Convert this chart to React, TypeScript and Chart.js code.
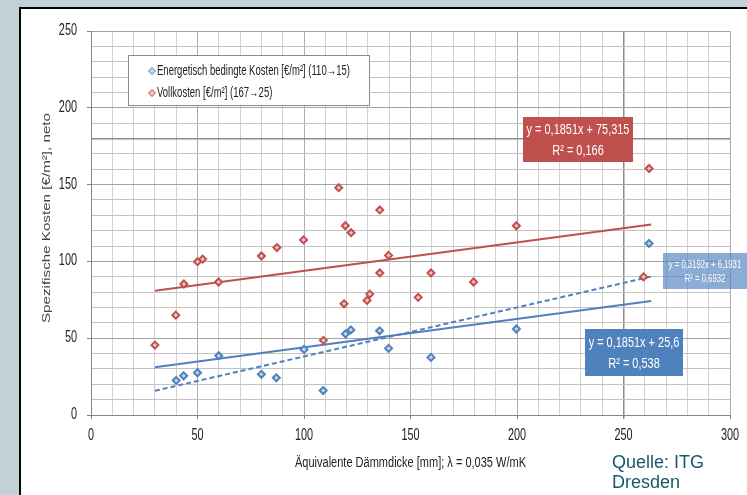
import React, { useEffect, useRef } from "react";
import { Chart, registerables } from "chart.js";

Chart.register(...registerables);

// ---- data ----
const energyX = [40, 43.5, 50, 60, 80, 87, 100, 109, 119.5, 122, 135.5, 139.7, 159.6, 199.7, 262];
const energyY = [22.5, 25.5, 27.5, 38.6, 26.5, 24.2, 42.7, 15.9, 52.8, 55.4, 54.8, 43.4, 37.5, 56, 111.7];

const fullX = [30, 39.8, 43.6, 50, 52.4, 59.9, 80, 87.3, 99.8, 109.1, 116.3, 118.8, 119.4, 122.1, 129.6, 130.9, 135.6, 135.6, 139.7, 153.6, 159.6, 179.6, 199.7, 259.4, 262];
const fullY = [45.5, 65, 85.3, 99.8, 101.5, 86.6, 103.5, 109, 114, 48.6, 148, 72.4, 123.2, 118.7, 74.6, 78.7, 133.5, 92.5, 103.9, 76.6, 92.5, 86.6, 123.2, 89.9, 160.5];

const seriesLabels = [
  "Energetisch bedingte Kosten [€/m²] (110→15)",
  "Vollkosten [€/m²] (167→25)",
];

// trend lines: [full, energy linear, energy dashed]
const trendSlopes = [0.1851, 0.1851, 0.3192];
const trendIntercepts = [75.315, 25.6, 6.1931];
const trendRange = [30, 263];
const trendTexts = [
  ["y = 0,1851x + 75,315", "R² = 0,166"],
  ["y = 0,1851x + 25,6", "R² = 0,538"],
  ["y = 0,3192x + 6,1931", "R² = 0,6932"],
];

const xTickMax = 300;
const yTickMax = 250;
const tickStep = 10;
const labelStep = 50;
const xTitle = "Äquivalente Dämmdicke [mm]; λ = 0,035 W/mK";
const yTitle = "Spezifische Kosten [€/m²], neto";
const sourceLines = ["Quelle: ITG", "Dresden"];

const SANS = '"Liberation Sans", Arial, sans-serif';
const RED = "#c0504d";
const BLUE = "#4f81bd";

const trendPoints = (i: number) =>
  trendRange.map((x) => ({ x, y: trendSlopes[i] * x + trendIntercepts[i] }));

function narrowText(
  ctx: CanvasRenderingContext2D,
  text: string,
  x: number,
  y: number,
  size: number,
  sx: number,
  align: CanvasTextAlign,
  baseline: CanvasTextBaseline,
  color: string,
  rotate = false,
  targetW = 0
) {
  ctx.save();
  ctx.translate(x, y);
  if (rotate) ctx.rotate(-Math.PI / 2);
  ctx.font = `${size}px ${SANS}`;
  let s = sx;
  if (targetW > 0) s = targetW / ctx.measureText(text).width;
  ctx.scale(s, 1);
  ctx.textAlign = align;
  ctx.textBaseline = baseline;
  ctx.fillStyle = color;
  ctx.fillText(text, 0, 0);
  ctx.restore();
}

const decorPlugin = {
  id: "decor",
  beforeDraw(chart: any) {
    const { ctx, width, height } = chart;
    ctx.save();
    ctx.fillStyle = "#c0d2d5";
    ctx.fillRect(0, 0, width, height);
    ctx.fillStyle = "#ffffff";
    ctx.fillRect(20, 8, width - 20, height - 8);
    ctx.strokeStyle = "#000";
    ctx.lineWidth = 2;
    ctx.beginPath();
    ctx.moveTo(20, height);
    ctx.lineTo(20, 8);
    ctx.lineTo(width, 8);
    ctx.stroke();
    ctx.restore();
  },
  afterDraw(chart: any) {
    const { ctx } = chart;
    const xs = chart.scales.x;
    const ys = chart.scales.y;
    ctx.save();

    // tick labels from the library's scales
    xs.ticks.forEach((t: any) => {
      if (t.value % labelStep !== 0) return;
      narrowText(ctx, String(t.value), xs.getPixelForValue(t.value), 440, 16, 0.68, "center", "alphabetic", "#222");
    });
    ys.ticks.forEach((t: any) => {
      if (t.value % labelStep !== 0) return;
      narrowText(ctx, String(t.value), 77, ys.getPixelForValue(t.value) - 0.5, 16, 0.68, "right", "middle", "#222");
    });

    // axis titles
    narrowText(ctx, xTitle, (xs.left + xs.right) / 2, 467, 14, 1, "center", "alphabetic", "#222", false, 231);
    narrowText(ctx, yTitle, 47, 218, 11, 1, "center", "middle", "#444", true, 210);

    // legend
    ctx.fillStyle = "#fff";
    ctx.fillRect(128.5, 55.5, 241, 50);
    ctx.strokeStyle = "#8c8c8c";
    ctx.lineWidth = 1;
    ctx.strokeRect(128.5, 55.5, 241, 50);
    const ds = chart.data.datasets;
    [0, 1].forEach((i) => {
      const y = i === 0 ? 71 : 93;
      const d = ds[i];
      ctx.beginPath();
      ctx.moveTo(152, y - 3.5);
      ctx.lineTo(155.5, y);
      ctx.lineTo(152, y + 3.5);
      ctx.lineTo(148.5, y);
      ctx.closePath();
      ctx.fillStyle = d.pointBackgroundColor;
      ctx.fill();
      ctx.strokeStyle = d.pointBorderColor;
      ctx.lineWidth = 1;
      ctx.stroke();
      narrowText(ctx, d.label, 157, y, 14, 0.68, "left", "middle", "#222");
    });

    // trend line equation boxes
    const box = (x: number, y: number, w: number, h: number, color: string, lines: string[], size: number, sx: number, yy: number[], cx: number) => {
      ctx.fillStyle = color;
      ctx.fillRect(x, y, w, h);
      lines.forEach((t, k) => narrowText(ctx, t, cx, yy[k], size, sx, "center", "middle", "#fff"));
    };
    box(523, 117, 110, 45, RED, trendTexts[0], 15, 0.73, [130, 151], 578);
    box(585, 329, 98, 47, BLUE, trendTexts[1], 15, 0.73, [343, 364], 634);
    box(663, 253, 90, 36, "rgba(79,129,189,0.66)", trendTexts[2], 11, 0.7, [265, 279], 705);

    // source
    ctx.fillStyle = "#17596a";
    ctx.font = `18px ${SANS}`;
    ctx.textAlign = "left";
    ctx.textBaseline = "alphabetic";
    ctx.fillText(sourceLines[0], 612, 468);
    ctx.fillText(sourceLines[1], 612, 488);
    ctx.restore();
  },
};

export default function App() {
  const ref = useRef<HTMLCanvasElement | null>(null);
  useEffect(() => {
    document.body.style.margin = "0";
    const canvas = ref.current!;
    const markerBase = { pointStyle: "rectRot", pointRadius: 3.5, pointBorderWidth: 2 };
    const chart = new Chart(canvas, {
      type: "scatter",
      data: {
        datasets: [
          {
            label: seriesLabels[0],
            data: energyX.map((x, i) => ({ x, y: energyY[i] })),
            ...markerBase,
            pointBorderColor: BLUE,
            pointBackgroundColor: "#c6d6ea",
            borderColor: BLUE,
            backgroundColor: "#c6d6ea",
          },
          {
            label: seriesLabels[1],
            data: fullX.map((x, i) => ({ x, y: fullY[i] })),
            ...markerBase,
            pointBorderColor: RED,
            pointBackgroundColor: "#eec5c4",
            borderColor: RED,
            backgroundColor: "#eec5c4",
          },
          {
            label: "trend full",
            data: trendPoints(0),
            showLine: true,
            pointRadius: 0,
            borderColor: RED,
            borderWidth: 2,
          },
          {
            label: "trend energy",
            data: trendPoints(1),
            showLine: true,
            pointRadius: 0,
            borderColor: BLUE,
            borderWidth: 2,
          },
          {
            label: "trend energy 2",
            data: trendPoints(2),
            showLine: true,
            pointRadius: 0,
            borderColor: BLUE,
            borderWidth: 2,
            borderDash: [5, 3],
          },
        ],
      },
      options: {
        animation: false,
        responsive: false,
        layout: { padding: { top: 31, right: 17, left: 0, bottom: 0 } },
        plugins: { legend: { display: false }, tooltip: { enabled: false } },
        scales: {
          x: {
            type: "linear",
            min: 0,
            max: xTickMax,
            afterFit: (s: any) => { s.height = 80; },
            ticks: { stepSize: tickStep, autoSkip: false, display: false },
            grid: {
              color: (c: any) => (c.tick.value === 250 ? "#8c8c8c" : c.tick.value % labelStep === 0 ? "#ababab" : "#d2d2d2"),
              lineWidth: (c: any) => (c.tick.value === 250 ? 1.5 : 1),
              tickColor: (c: any) => (c.tick.value % labelStep === 0 ? "#868686" : "rgba(0,0,0,0)"),
              tickLength: 4,
            },
            border: { color: "#868686" },
          },
          y: {
            type: "linear",
            min: 0,
            max: yTickMax,
            afterFit: (s: any) => { s.width = 91; },
            ticks: { stepSize: tickStep, autoSkip: false, display: false },
            grid: {
              color: (c: any) => (c.tick.value === 180 ? "#8c8c8c" : c.tick.value % labelStep === 0 ? "#a4a4a4" : "#c2c2c2"),
              lineWidth: (c: any) => (c.tick.value === 180 ? 1.5 : 1),
              tickColor: (c: any) => (c.tick.value % labelStep === 0 ? "#868686" : "rgba(0,0,0,0)"),
              tickLength: 4,
            },
            border: { color: "#868686" },
          },
        },
      },
      plugins: [decorPlugin],
    } as any);
    return () => chart.destroy();
  }, []);
  return (
    <div style={{ width: 747, height: 495 }}>
      <canvas ref={ref} width={747} height={495} style={{ display: "block" }} />
    </div>
  );
}
